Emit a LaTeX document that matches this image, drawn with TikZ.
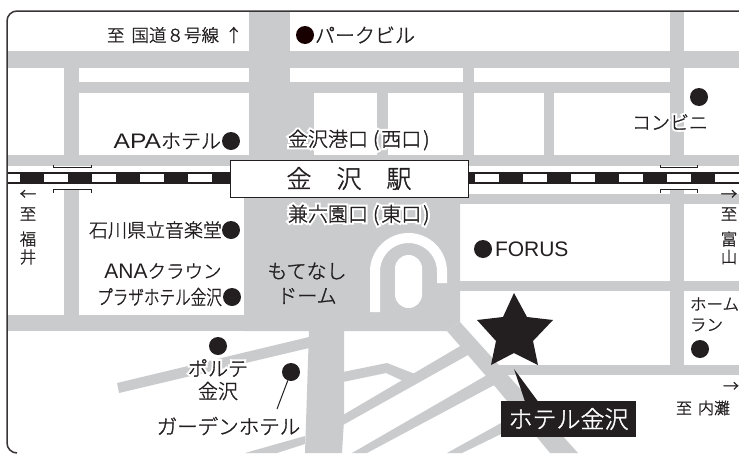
\documentclass[tikz,border=0pt]{standalone}
\usepackage{fontspec}
\setmainfont{Noto Sans CJK JP Light}[FakeBold=1.5]
\newfontfamily\halofont{Noto Sans CJK JP Light}[FakeBold=22]
\newfontfamily\latinfont{Liberation Sans}
\definecolor{road}{HTML}{C9CBCD}
\definecolor{ink}{HTML}{231F20}
\newcommand{\fs}[1]{\fontsize{#1}{#1}\selectfont}
\newcommand{\halo}[1]{\makebox[0pt][l]{\color{white}\halofont #1}#1}
\tikzset{
  x=1pt,y=-1pt,
  lbl/.style={inner sep=0pt,outer sep=0pt,text=ink,font=\fs{#1}},
  lbl/.default=20,
  spot/.style={circle,fill=ink,inner sep=0pt,minimum size=18pt,outer sep=0pt},
  roadfill/.style={fill=road,draw=none},
  tiebar/.style={fill=white,draw=none},
  bridge/.style={draw=ink,line width=1pt}
}
\begin{document}
\begin{tikzpicture}
\useasboundingbox (0,0) rectangle (739,453);
\fill[white] (0,0) rectangle (739,453);
\begin{scope}
\clip (739,11) -- (17,11) arc[start angle=270,end angle=180,radius=10] -- (7,443) arc[start angle=180,end angle=90,radius=10] -- (739,453) -- cycle;
\fill[roadfill] (0,51) rectangle (739,68);
\fill[roadfill] (64,82) rectangle (684,93);
\fill[roadfill] (0,155) rectangle (739,166);
\fill[roadfill] (460,194) rectangle (739,204);
\fill[roadfill] (460,281) rectangle (739,291);
\fill[roadfill] (490,365) rectangle (739,375);
\fill[roadfill] (0,315) rectangle (310,331);
\fill[roadfill] (249,0) rectangle (290,93);
\fill[roadfill] (249,82) rectangle (314,172);
\fill[roadfill] (64,68) rectangle (79,166);
\fill[roadfill] (64,190) rectangle (79,316);
\fill[roadfill] (377,93) rectangle (388,155);
\fill[roadfill] (463,68) rectangle (474,155);
\fill[roadfill] (544,93) rectangle (554,155);
\fill[roadfill] (670,0) rectangle (684,166);
\fill[roadfill] (670,190) rectangle (684,375);
\fill[roadfill] (244,190) -- (460,190) -- (460,322) -- (447,331) -- (344,331) -- (344,420) -- (342,453) -- (305,453) -- (309,331) -- (244,331) -- cycle;
\fill[roadfill] (460,322) -- (578,453) -- (550,453) -- (493,384) -- (447,331) -- cycle;
\fill[roadfill] (462,345) -- (468,355) -- (343,425) -- (343,415) -- cycle;
\fill[roadfill] (487,375) -- (498,383) -- (367,453) -- (352,453) -- cycle;
\fill[roadfill] (530,407) -- (536,417) -- (462,453) -- (447,453) -- cycle;
\fill[roadfill] (343,372) -- (387,363) -- (415,374) -- (403,381) -- (386,373) -- (343,382) -- cycle;
\fill[roadfill] (309,337) -- (309,348) -- (119,393) -- (117,383) -- cycle;
\fill[roadfill] (305,436) -- (305,444) -- (277,453) -- (245,453) -- cycle;
\draw[white,line width=10pt] (375,312) -- (375,271.5) arc[start angle=180,end angle=360,radius=33.5] -- (442,283);
\fill[white] (395,268.5) arc[start angle=180,end angle=360,radius=13.5] -- (422,294.5) arc[start angle=0,end angle=180,radius=13.5] -- cycle;
\fill[ink] (0,172) rectangle (739,184);
\foreach \xa in {8,44,92,140,188,475,523,571,619,667,715}{
  \pgfmathsetmacro{\xb}{\xa==8 ? 20 : \xa+24}
  \fill[tiebar] (\xa,174) rectangle (\xb,182);
}
\end{scope}
\draw[draw=ink!90,line width=1.5pt] (739,11) -- (17,11) arc[start angle=270,end angle=180,radius=10] -- (7,443) arc[start angle=180,end angle=90,radius=10];
\draw[bridge] (53,165) -- (53,167.5) -- (91,167.5) -- (91,165);
\draw[bridge] (53,193) -- (53,189.5) -- (91,189.5) -- (91,193);
\draw[bridge] (660,165) -- (660,167.5) -- (697,167.5) -- (697,165);
\draw[bridge] (660,193) -- (660,189.5) -- (697,189.5) -- (697,193);
\node[draw=ink,line width=1pt,fill=white,minimum width=238pt,minimum height=37pt,inner sep=0pt,text=ink,font=\fs{25}] (station) at (349,178.5) {金　沢　駅};
\node[spot,fill=black!90!red] (dotpark) at (305,35) {};
\node[spot] (dotapa) at (231,141) {};
\node[spot] (dotishi) at (231,230) {};
\node[spot] (dotana) at (232,297) {};
\node[spot] (dotporte) at (218,346) {};
\node[spot] (dotgarden) at (291,372) {};
\node[spot] (dotconv) at (699,97) {};
\node[spot] (dotforus) at (483,249) {};
\node[spot] (dothome) at (700,349) {};
\coordinate (gardenend) at (277,409);
\draw[ink,line width=1pt] (dotgarden) -- (gardenend);
\node[lbl=17.5,anchor=west] (t8) at (107,35) {至\hspace{7pt}国道\char"FF18 号線\hspace{6pt}↑};
\node[lbl,anchor=west] (tpark) at (315,35) {パークビル};
\node[lbl,anchor=east] (tapa) at (221,141) {{\latinfont\fs{21}\scalebox{1.17}[1]{APA}}ホテル};
\node[lbl,anchor=west] (twest) at (288,140) {\halo{金沢港口\hspace{5pt}(\hspace{2pt}西口\hspace{2pt})}};
\node[lbl,anchor=west] (teast) at (288,215) {\halo{兼六園口\hspace{5pt}(\hspace{2pt}東口\hspace{2pt})}};
\node[lbl=19,anchor=east] (tishi) at (222,230) {石川県立音楽堂};
\node[lbl=18.5,anchor=center] (tana) at (163,271) {{\latinfont\fs{21}ANA}クラウン};
\node[lbl,anchor=center] (tplaza) at (159.5,297) {\scalebox{.78}[1]{プラザホテル金沢}};
\node[lbl,anchor=center] (tmote) at (307,271) {もてなし};
\node[lbl,anchor=center] (tdome) at (307,296) {ドーム};
\node[lbl,anchor=center] (tporte) at (218,368) {\halo{ポルテ}};
\node[lbl,anchor=center] (tkana) at (218,391) {\halo{金沢}};
\node[lbl=20.5,anchor=center] (tgarden) at (228.5,426) {\halo{ガーデンホテル}};
\node[lbl=19,anchor=center] (tconv) at (670,122) {\halo{コンビニ}};
\node[lbl=21,anchor=west] (tforus) at (495,249) {\latinfont FORUS};
\node[lbl=16.5,anchor=west] (thome) at (690,304) {ホーム};
\node[lbl=16.5,anchor=west] (tran) at (690,325) {ラン};
\node[lbl=16,anchor=east] (tarr) at (739,387) {→};
\node[lbl=16,anchor=west] (tuchi) at (676,408) {至\hspace{6pt}内灘};
\node[lbl=16.5] (tl1) at (28,195) {←};
\node[lbl=16.5] (tl2) at (28,214) {至};
\node[lbl=16.5] (tl3) at (28,239) {福};
\node[lbl=16.5] (tl4) at (28,257) {井};
\node[lbl=16.5] (tr1) at (729,195) {→};
\node[lbl=16.5] (tr2) at (729,214) {至};
\node[lbl=16.5] (tr3) at (729,239) {富};
\node[lbl=16.5] (tr4) at (729,257) {山};
\fill[ink] (514,293) -- (527,317) -- (553,320) -- (533,341) -- (538,365) -- (514,353) -- (491,365) -- (496,341) -- (477,320) -- (503,317) -- cycle;
\node[fill=ink,minimum width=135pt,minimum height=36pt,inner sep=0pt,text=white,font=\fs{24}] (hotel) at (568.5,419) {ホテル金沢};
\coordinate (tip) at (514,369);
\fill[ink] (tip) -- (538,401.5) -- (525,401.5) -- cycle;
\end{tikzpicture}
\end{document}
